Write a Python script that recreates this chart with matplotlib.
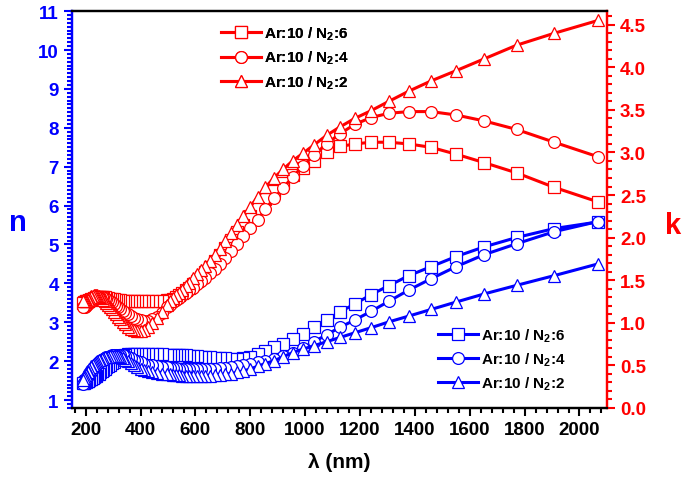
import numpy as np
import matplotlib
matplotlib.use("Agg")
import matplotlib.pyplot as plt
from matplotlib.ticker import MultipleLocator, FormatStrFormatter

plt.rcParams['font.family'] = ['Liberation Sans', 'DejaVu Sans']
plt.rcParams['font.weight'] = 'bold'
plt.rcParams['mathtext.fontset'] = 'custom'
plt.rcParams['mathtext.rm'] = 'Liberation Sans:bold'
plt.rcParams['mathtext.bf'] = 'Liberation Sans:bold'
plt.rcParams['mathtext.default'] = 'bf'

# wavelength (nm), long -> short
wl = [2067, 1908, 1771, 1653, 1550, 1459, 1378, 1305, 1240, 1181,
      1127, 1078, 1033, 992, 954, 919, 886, 855, 827, 800,
      775, 752, 729, 709, 689, 670, 653, 636, 620, 605,
      590, 577, 564, 551, 539, 528, 517, 506, 496, 477,
      459, 443, 428, 413, 400, 388, 376, 365, 354, 344,
      335, 326, 318, 310, 302, 295, 288, 282, 276, 270,
      264, 258, 253, 248, 243, 238, 234, 230, 225, 221,
      218, 214, 210, 207, 203, 200, 197, 194, 191]

# refractive index n
n_6 = [5.58, 5.41, 5.18, 4.94, 4.69, 4.43, 4.20, 3.94, 3.71, 3.47,
       3.27, 3.05, 2.88, 2.71, 2.57, 2.45, 2.36, 2.27, 2.19, 2.12,
       2.08, 2.06, 2.06, 2.07, 2.08, 2.09, 2.10, 2.11, 2.12, 2.13,
       2.14, 2.14, 2.15, 2.15, 2.16, 2.16, 2.17, 2.17, 2.17, 2.18,
       2.18, 2.18, 2.18, 2.19, 2.19, 2.19, 2.19, 2.19, 2.18, 2.16,
       2.13, 2.10, 2.07, 2.03, 1.99, 1.95, 1.91, 1.87, 1.84, 1.80,
       1.77, 1.74, 1.71, 1.68, 1.66, 1.63, 1.61, 1.59, 1.57, 1.55,
       1.53, 1.52, 1.50, 1.49, 1.48, 1.47, 1.46, 1.45, 1.45]
n_4 = [5.59, 5.33, 5.02, 4.74, 4.43, 4.12, 3.83, 3.54, 3.28, 3.06,
       2.87, 2.68, 2.50, 2.34, 2.22, 2.13, 2.06, 2.01, 1.97, 1.93,
       1.90, 1.87, 1.85, 1.83, 1.82, 1.81, 1.80, 1.80, 1.80, 1.80,
       1.80, 1.80, 1.80, 1.81, 1.81, 1.82, 1.82, 1.83, 1.84, 1.85,
       1.87, 1.89, 1.91, 1.94, 1.97, 2.00, 2.03, 2.07, 2.10, 2.13,
       2.15, 2.16, 2.17, 2.17, 2.16, 2.15, 2.14, 2.12, 2.10, 2.08,
       2.06, 2.03, 2.00, 1.97, 1.94, 1.91, 1.88, 1.85, 1.81, 1.77,
       1.73, 1.69, 1.65, 1.61, 1.57, 1.53, 1.49, 1.45, 1.41]
n_2 = [4.50, 4.20, 3.95, 3.73, 3.52, 3.33, 3.16, 3.01, 2.86, 2.73,
       2.61, 2.50, 2.40, 2.31, 2.22, 2.11, 2.01, 1.94, 1.87, 1.80,
       1.75, 1.71, 1.68, 1.66, 1.65, 1.64, 1.63, 1.62, 1.62, 1.62,
       1.62, 1.62, 1.63, 1.63, 1.64, 1.64, 1.65, 1.66, 1.67, 1.68,
       1.70, 1.72, 1.75, 1.78, 1.81, 1.85, 1.90, 1.95, 2.00, 2.04,
       2.08, 2.11, 2.13, 2.14, 2.14, 2.14, 2.13, 2.12, 2.11, 2.10,
       2.08, 2.06, 2.04, 2.02, 2.00, 1.98, 1.96, 1.93, 1.90, 1.87,
       1.84, 1.80, 1.76, 1.72, 1.68, 1.64, 1.60, 1.56, 1.52]

# extinction coefficient k
k_6 = [2.42, 2.59, 2.76, 2.88, 2.98, 3.06, 3.10, 3.12, 3.12, 3.10,
       3.07, 3.00, 2.90, 2.82, 2.73, 2.64, 2.55, 2.45, 2.35, 2.25,
       2.15, 2.06, 1.97, 1.88, 1.80, 1.72, 1.65, 1.59, 1.54, 1.49,
       1.45, 1.41, 1.38, 1.35, 1.32, 1.30, 1.28, 1.27, 1.27, 1.26,
       1.26, 1.26, 1.26, 1.26, 1.26, 1.26, 1.26, 1.26, 1.26, 1.26,
       1.26, 1.27, 1.27, 1.27, 1.28, 1.28, 1.28, 1.29, 1.29, 1.30,
       1.30, 1.30, 1.30, 1.30, 1.30, 1.30, 1.29, 1.29, 1.28, 1.28,
       1.27, 1.27, 1.26, 1.26, 1.25, 1.25, 1.24, 1.24, 1.23]
k_4 = [2.95, 3.12, 3.27, 3.37, 3.44, 3.48, 3.48, 3.46, 3.41, 3.33,
       3.22, 3.10, 2.97, 2.84, 2.71, 2.58, 2.46, 2.33, 2.21, 2.11,
       2.02, 1.93, 1.84, 1.76, 1.69, 1.63, 1.58, 1.53, 1.49, 1.45,
       1.41, 1.38, 1.35, 1.32, 1.29, 1.27, 1.24, 1.21, 1.18, 1.12,
       1.07, 1.04, 1.02, 1.02, 1.03, 1.04, 1.06, 1.08, 1.10, 1.12,
       1.14, 1.16, 1.18, 1.20, 1.22, 1.24, 1.26, 1.27, 1.28, 1.29,
       1.30, 1.30, 1.30, 1.30, 1.30, 1.30, 1.29, 1.28, 1.27, 1.26,
       1.25, 1.24, 1.23, 1.22, 1.21, 1.20, 1.19, 1.18, 1.18]
k_2 = [4.55, 4.40, 4.26, 4.10, 3.96, 3.84, 3.72, 3.60, 3.49, 3.40,
       3.30, 3.20, 3.09, 2.99, 2.90, 2.80, 2.70, 2.59, 2.48, 2.36,
       2.25, 2.15, 2.05, 1.96, 1.87, 1.79, 1.72, 1.67, 1.62, 1.57,
       1.52, 1.47, 1.43, 1.39, 1.35, 1.32, 1.29, 1.25, 1.21, 1.13,
       1.06, 1.00, 0.95, 0.91, 0.90, 0.90, 0.91, 0.93, 0.95, 0.98,
       1.01, 1.04, 1.07, 1.10, 1.13, 1.16, 1.19, 1.21, 1.23, 1.25,
       1.27, 1.29, 1.30, 1.31, 1.32, 1.32, 1.32, 1.32, 1.31, 1.31,
       1.30, 1.29, 1.28, 1.27, 1.27, 1.26, 1.26, 1.25, 1.25]

labels = [r"Ar:10 / N$_2$:6", r"Ar:10 / N$_2$:4", r"Ar:10 / N$_2$:2"]
markers = ['s', 'o', '^']
msizes = [8, 8.5, 9]

fig = plt.figure(figsize=(6.85, 4.85), dpi=100)
ax = fig.add_subplot(111)
fig.subplots_adjust(left=0.105, right=0.886, bottom=0.157, top=0.975)
ax2 = ax.twinx()

for y, lab, m, ms in zip([n_6, n_4, n_2], labels, markers, msizes):
    ax.plot(wl, y, color='blue', lw=2.2, marker=m, ms=ms, mfc='white',
            mec='blue', mew=0.9, label=lab)
for y, lab, m, ms in zip([k_6, k_4, k_2], labels, markers, msizes):
    ax2.plot(wl, y, color='red', lw=2.2, marker=m, ms=ms, mfc='white',
             mec='red', mew=0.9, label=lab)

ax.set_xlim(150, 2100)
ax.set_ylim(0.8, 11)
ax2.set_ylim(0, 4.66)

ax.xaxis.set_major_locator(MultipleLocator(200))
ax.xaxis.set_minor_locator(MultipleLocator(40))
ax.yaxis.set_major_locator(MultipleLocator(1))
ax.yaxis.set_minor_locator(MultipleLocator(0.1))
ax2.yaxis.set_major_locator(MultipleLocator(0.5))
ax2.yaxis.set_minor_locator(MultipleLocator(0.1))
ax2.yaxis.set_major_formatter(FormatStrFormatter('%.1f'))

for a in (ax, ax2):
    for s in a.spines.values():
        s.set_linewidth(1.6)
    a.spines['left'].set_color('blue')
    a.spines['right'].set_color('red')

ax.tick_params(axis='x', which='major', direction='out', length=6, width=1.5,
               labelsize=13.5, top=False)
ax.tick_params(axis='x', which='minor', direction='out', length=3.5, width=1.5, top=False)
ax.tick_params(axis='y', which='major', direction='out', length=6, width=1.5,
               colors='blue', labelsize=13.5)
ax.tick_params(axis='y', which='minor', direction='out', length=3.5, width=1.5, colors='blue')
ax2.tick_params(axis='y', which='major', direction='out', length=6, width=1.5,
                colors='red', labelsize=13.5)
ax2.tick_params(axis='y', which='minor', direction='out', length=3.5, width=1.5, colors='red')
for t in ax.get_xticklabels() + ax.get_yticklabels() + ax2.get_yticklabels():
    t.set_fontweight('bold')

fig.text(0.026, 0.54, "n", color='blue', fontsize=21, fontweight='bold', ha='center', va='center')
fig.text(0.982, 0.535, "k", color='red', fontsize=21, fontweight='bold', ha='center', va='center')
ax.set_xlabel("λ (nm)", fontsize=15, fontweight='bold', labelpad=10)

leg_r = ax2.legend(loc='upper left', bbox_to_anchor=(0.265, 0.985), frameon=False,
                   fontsize=11, handlelength=2.6, handletextpad=0.2, labelspacing=0.45,
                   borderpad=0, numpoints=1)
leg_b = ax.legend(loc='upper left', bbox_to_anchor=(0.67, 0.225), frameon=False,
                  fontsize=11, handlelength=2.6, handletextpad=0.2, labelspacing=0.45,
                  borderpad=0, numpoints=1)
ax2.add_artist(leg_r)

fig.savefig("out.png", dpi=100)
